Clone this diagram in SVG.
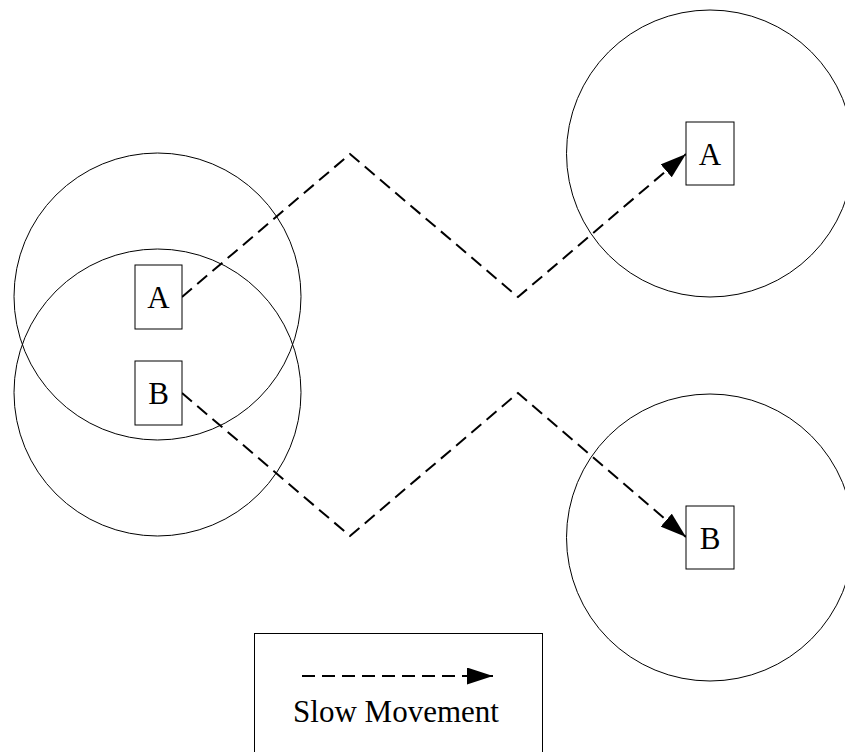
<svg xmlns="http://www.w3.org/2000/svg" width="845" height="752" viewBox="0 0 845 752">
<defs>
<marker id="arr" markerWidth="26" markerHeight="17" refX="26" refY="8.5" orient="auto" markerUnits="userSpaceOnUse">
<path d="M0,0 L26,8.5 L0,17 Z" fill="#000"/>
</marker>
<style>
.c{fill:none;stroke:#000;stroke-width:1}
.b{fill:#fff;stroke:#000;stroke-width:1}
.t{font-family:"Liberation Serif","Times New Roman",serif;font-size:31px;fill:#000;text-anchor:middle}
.d{fill:none;stroke:#000;stroke-width:2;stroke-dasharray:13 7}
</style>
</defs>
<rect width="845" height="752" fill="#fff"/>
<g id="ranges">
<circle class="c" cx="157.5" cy="296.5" r="143.5"/>
<circle class="c" cx="157.5" cy="392.5" r="143.5"/>
<circle class="c" cx="710" cy="153.5" r="143.5"/>
<circle class="c" cx="710" cy="537.5" r="143.5"/>
</g>
<g id="connectors">
<polyline class="d" points="182,297 350,154 518,297 686,154" marker-end="url(#arr)"/>
<polyline class="d" points="182,393 350,536 518,393 686,537" marker-end="url(#arr)"/>
</g>
<g id="nodeA1"><rect class="b" x="135" y="265" width="47" height="64"/><text class="t" x="158.5" y="308">A</text></g>
<g id="nodeB1"><rect class="b" x="135" y="361" width="47" height="64"/><text class="t" x="158.5" y="404">B</text></g>
<g id="nodeA2"><rect class="b" x="686" y="122" width="48" height="63"/><text class="t" x="710" y="165">A</text></g>
<g id="nodeB2"><rect class="b" x="686" y="506" width="48" height="63"/><text class="t" x="710" y="549">B</text></g>
<g id="legend">
<rect class="b" x="254.5" y="633.5" width="288" height="130"/>
<line class="d" x1="302" y1="676" x2="493" y2="676" marker-end="url(#arr)"/>
<text class="t" x="396" y="722">Slow Movement</text>
</g>
</svg>
